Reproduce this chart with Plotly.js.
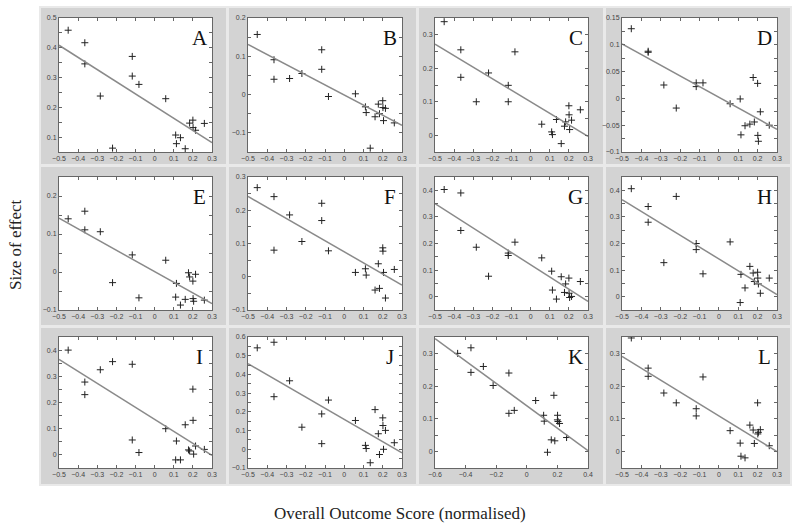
<!DOCTYPE html>
<html>
<head>
<meta charset="utf-8">
<script src="https://cdn.plot.ly/plotly-3.0.1.min.js"></script>
<style>
  html, body { margin: 0; padding: 0; background: #fff; }
  #chart { width: 800px; height: 528px; }
</style>
</head>
<body>
<div id="chart"></div>
<script>
// overall outcome score (normalised), one value per subject, shared by all panels
const outcomeScore = [-0.452, -0.365, -0.365, -0.284, -0.220, -0.117, -0.117, -0.082, 0.058, 0.110,
                      0.114, 0.135, 0.160, 0.177, 0.183, 0.200, 0.201, 0.204, 0.214, 0.260];

// size of effect per panel (null = not visible in the figure)
const effectA = [0.459, 0.417, 0.346, 0.238, 0.063, 0.371, 0.305, 0.277, 0.229, 0.107,
                 0.078, 0.098, 0.061, null, 0.147, 0.157, 0.132, null, 0.123, 0.146];
const effectB = [0.157, 0.091, 0.040, 0.042, 0.055, 0.117, 0.066, -0.005, 0.002, -0.032,
                 -0.047, -0.140, -0.058, -0.025, -0.050, -0.016, -0.034, -0.068, -0.036, -0.074];
const effectC = [0.339, 0.255, 0.173, 0.100, 0.186, 0.149, 0.100, 0.249, 0.033, 0.010,
                 0.002, 0.047, -0.025, 0.027, 0.040, 0.088, 0.061, 0.017, 0.045, 0.076];
const effectD = [0.130, 0.088, 0.086, 0.025, -0.018, 0.029, 0.022, 0.029, -0.010, -0.001,
                 -0.068, -0.051, -0.048, 0.039, -0.044, 0.028, -0.069, -0.080, -0.025, -0.050];
const effectE = [0.140, 0.160, 0.111, 0.106, -0.028, 0.045, null, -0.068, 0.031, -0.066,
                 -0.030, -0.087, -0.072, -0.002, -0.013, -0.024, -0.070, -0.077, -0.006, -0.074];
const effectF = [0.268, 0.241, 0.080, 0.186, 0.106, 0.221, 0.169, 0.078, 0.013, 0.024,
                 0.005, null, -0.040, 0.039, -0.035, 0.087, 0.077, 0.013, -0.064, 0.022];
const effectG = [0.403, 0.390, 0.249, 0.186, 0.077, 0.164, 0.155, 0.205, 0.146, 0.096,
                 0.025, -0.009, 0.075, 0.016, 0.048, 0.070, 0.013, -0.003, 0.001, 0.057];
const effectH = [0.406, 0.339, 0.280, 0.128, 0.377, 0.200, 0.177, 0.086, 0.206, -0.022,
                 0.084, 0.033, 0.114, 0.089, 0.057, 0.092, 0.070, 0.048, 0.013, 0.070];
const effectI = [0.400, 0.278, 0.230, 0.325, 0.356, 0.346, 0.057, 0.009, 0.100, -0.019,
                 0.053, -0.019, 0.115, 0.019, 0.015, 0.251, 0.132, 0.003, 0.034, 0.021];
const effectJ = [0.542, 0.572, 0.281, 0.366, 0.118, 0.189, 0.030, 0.263, 0.154, 0.021,
                 0.004, -0.072, 0.212, 0.083, -0.028, 0.168, 0.127, 0.000, 0.101, 0.035];
const effectK = [0.300, 0.317, 0.242, 0.260, 0.202, 0.240, 0.117, 0.126, 0.156, 0.111,
                 0.093, -0.002, 0.036, 0.172, 0.033, 0.097, 0.111, 0.092, 0.086, 0.043];
const effectL = [0.347, 0.255, 0.230, 0.179, 0.149, 0.131, 0.109, 0.228, 0.064, 0.026,
                 -0.014, -0.019, 0.081, 0.066, 0.025, 0.149, 0.054, 0.059, 0.067, 0.018];

const panelLetters = ['A', 'B', 'C', 'D', 'E', 'F', 'G', 'H', 'I', 'J', 'K', 'L'];
const panelEffects = [effectA, effectB, effectC, effectD, effectE, effectF,
                      effectG, effectH, effectI, effectJ, effectK, effectL];

// fitted regression line per panel
const fitSlope = [-0.409, -0.264, -0.344, -0.199, -0.281, -0.333, -0.460, -0.446, -0.458, -0.595, -0.342, -0.363];
const fitIntercept = [0.204, -0.001, 0.100, 0.002, 0.001, 0.075, 0.120, 0.142, 0.136, 0.160, 0.140, 0.109];

// axis ranges / tick steps
const xRanges = [[-0.5, 0.3], [-0.5, 0.3], [-0.5, 0.3], [-0.5, 0.3], [-0.5, 0.3], [-0.5, 0.3],
                 [-0.5, 0.3], [-0.5, 0.3], [-0.5, 0.3], [-0.5, 0.3], [-0.6, 0.4], [-0.5, 0.3]];
const xSteps = [0.1, 0.1, 0.1, 0.1, 0.1, 0.1, 0.1, 0.1, 0.1, 0.1, 0.2, 0.1];
const yRanges = [[0.05, 0.5], [-0.15, 0.2], [-0.05, 0.35], [-0.1, 0.15], [-0.1, 0.25], [-0.1, 0.3],
                 [-0.05, 0.45], [-0.05, 0.45], [-0.05, 0.45], [-0.1, 0.6], [-0.05, 0.35], [-0.05, 0.35]];
const ySteps = [0.1, 0.1, 0.1, 0.05, 0.1, 0.1, 0.1, 0.1, 0.1, 0.1, 0.1, 0.1];

// pixel layout of the grid (800 x 528 page)
const W = 800, H = 528;
const colPlot = [[59, 212], [248, 402], [435, 588], [622, 777]];
const rowPlot = [[18, 152], [177, 310], [337, 468]];
const colBox = [[41, 226], [229, 416], [419, 603], [606, 790]];
const rowBox = [[8, 164], [167, 325], [328, 484]];

const tickFont = { family: 'Liberation Sans, Arial, sans-serif', size: 7, color: '#444' };
const serif = 'Liberation Serif, Times New Roman, serif';

const traces = [];
const layout = {
  width: W,
  height: H,
  margin: { l: 0, r: 0, t: 0, b: 0 },
  paper_bgcolor: '#fff',
  plot_bgcolor: 'rgba(0,0,0,0)',
  showlegend: false,
  shapes: [{
    type: 'rect', xref: 'paper', yref: 'paper', layer: 'below',
    x0: 39 / W, x1: 792 / W, y0: 1 - 486 / H, y1: 1 - 6 / H,
    fillcolor: '#e9e9e9', line: { width: 0 }
  }],
  annotations: []
};
const whiteAreas = [];

panelLetters.forEach((letter, i) => {
  const col = i % 4;
  const row = Math.floor(i / 4);
  const n = i === 0 ? '' : String(i + 1);
  const xa = 'x' + n;
  const ya = 'y' + n;

  traces.push({
    type: 'scatter',
    mode: 'markers',
    x: outcomeScore,
    y: panelEffects[i],
    xaxis: xa,
    yaxis: ya,
    marker: { symbol: 'cross-thin', size: 5, line: { width: 1, color: '#222' } },
    cliponaxis: true,
    hoverinfo: 'x+y'
  });

  const xr = xRanges[i];
  traces.push({
    type: 'scatter',
    mode: 'lines',
    x: xr,
    y: xr.map(v => fitIntercept[i] + fitSlope[i] * v),
    xaxis: xa,
    yaxis: ya,
    line: { color: '#8a8a8a', width: 1.5 },
    hoverinfo: 'skip'
  });

  const axisBase = {
    showline: true, linecolor: '#666', linewidth: 1, mirror: 'ticks',
    ticks: 'inside', ticklen: 3, tickcolor: '#666', tickwidth: 1,
    showgrid: false, zeroline: false, tickfont: tickFont, fixedrange: true
  };

  layout['xaxis' + n] = Object.assign({}, axisBase, {
    anchor: ya,
    domain: [colPlot[col][0] / W, colPlot[col][1] / W],
    range: xr,
    tick0: 0,
    dtick: xSteps[i]
  });
  layout['yaxis' + n] = Object.assign({}, axisBase, {
    anchor: xa,
    domain: [1 - rowPlot[row][1] / H, 1 - rowPlot[row][0] / H],
    range: yRanges[i],
    tick0: 0,
    dtick: ySteps[i],
    minor: { dtick: ySteps[i] / 2, ticks: 'inside', ticklen: 3, tickcolor: '#666', showgrid: false }
  });

  // grey panel frame, then the white plotting area on top of it
  layout.shapes.push({
    type: 'rect', xref: 'paper', yref: 'paper', layer: 'below',
    x0: colBox[col][0] / W, x1: colBox[col][1] / W,
    y0: 1 - rowBox[row][1] / H, y1: 1 - rowBox[row][0] / H,
    fillcolor: '#d3d3d3', line: { width: 0 }
  });
  whiteAreas.push({
    type: 'rect', xref: 'paper', yref: 'paper', layer: 'below',
    x0: colPlot[col][0] / W, x1: colPlot[col][1] / W,
    y0: 1 - rowPlot[row][1] / H, y1: 1 - rowPlot[row][0] / H,
    fillcolor: '#fff', line: { width: 0 }
  });

  layout.annotations.push({
    text: letter,
    xref: xa + ' domain', yref: ya + ' domain',
    x: 0.92, y: 0.85, xanchor: 'center', yanchor: 'middle',
    showarrow: false,
    font: { family: serif, size: 21, color: '#111' }
  });
});
layout.shapes = layout.shapes.concat(whiteAreas);

layout.annotations.push({
  text: 'Size of effect',
  xref: 'paper', yref: 'paper',
  x: 15 / W, y: 1 - 245 / H,
  textangle: -90, showarrow: false,
  xanchor: 'center', yanchor: 'middle',
  font: { family: serif, size: 17, color: '#222' }
});
layout.annotations.push({
  text: 'Overall Outcome Score (normalised)',
  xref: 'paper', yref: 'paper',
  x: 400 / W, y: 1 - 513 / H,
  showarrow: false,
  xanchor: 'center', yanchor: 'middle',
  font: { family: serif, size: 17, color: '#222' }
});

Plotly.newPlot('chart', traces, layout, { displayModeBar: false, staticPlot: true });
</script>
</body>
</html>
